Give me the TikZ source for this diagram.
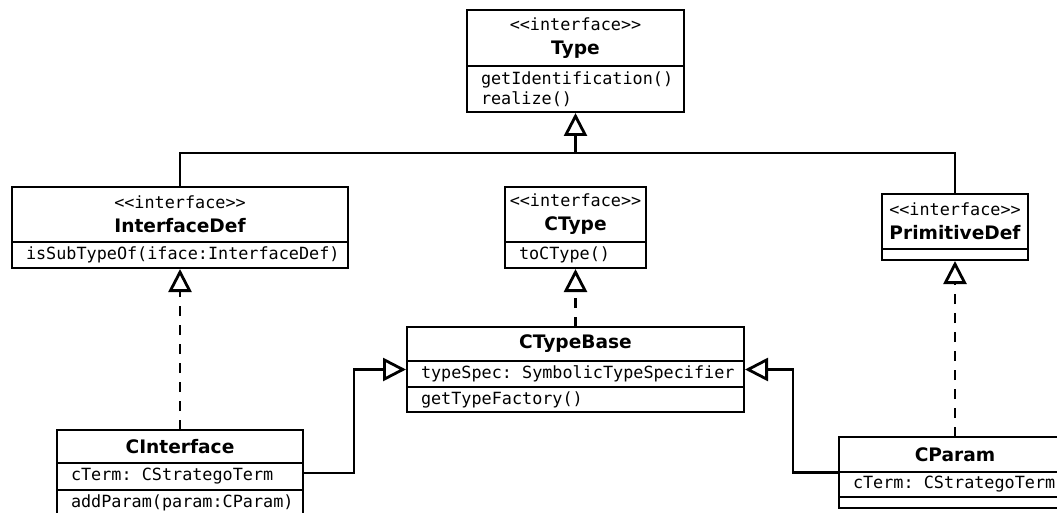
\documentclass[tikz,border=0pt]{standalone}
\usepackage{fontspec}
\setsansfont{DejaVu Sans}
\setmonofont{DejaVu Sans Mono}
\usepackage{tikz}
\usetikzlibrary{arrows.meta,positioning}
\tikzstyle{classbox} = [draw,line width=2.8pt,outer sep=0pt,inner sep=0pt]
\tikzstyle{namebox} = [classbox,align=center,font=\fontsize{16.8pt}{24pt}\selectfont]
\tikzstyle{memberbox} = [classbox,inner xsep=14pt,align=left,font=\ttfamily\fontsize{16.8pt}{20pt}\selectfont]
\tikzstyle{line} = [draw,line width=2.8pt]
\tikzstyle{generalization} = [line,-{Triangle[open,length=23pt,width=23pt]},shorten >=1pt]
\tikzstyle{realization} = [generalization,dash pattern=on 10pt off 9pt]
\newcommand{\ifacetag}{{\ttfamily <<interface>>}}
\newcommand{\cname}[1]{{\sffamily\bfseries\fontsize{18.6pt}{24pt}\selectfont #1}}
\newcommand{\msp}{\hspace{0.602em}}

\begin{document}
\begin{tikzpicture}[x=1pt,y=-1pt]
	\useasboundingbox (0,0) rectangle (1057,513);

	% the interfaces
	\node[classbox,minimum width=217pt,minimum height=102pt] (type) at (575.5,61) {};
	\node[namebox,minimum width=217pt,minimum height=56pt,below=0pt of type.north] (type-name) {\ifacetag\\\cname{Type}};
	\node[memberbox,text width=189pt,minimum height=46pt,below=0pt of type-name] (type-ops) {getIdentification()\\realize()};

	\node[classbox,minimum width=336pt,minimum height=81pt] (idef) at (180,227.5) {};
	\node[namebox,minimum width=336pt,minimum height=55pt,below=0pt of idef.north] (idef-name) {\ifacetag\\\cname{InterfaceDef}};
	\node[memberbox,text width=308pt,minimum height=26pt,below=0pt of idef-name] (idef-ops) {isSubTypeOf(iface:InterfaceDef)};

	\node[classbox,minimum width=141pt,minimum height=81pt] (ctype) at (575.5,227.5) {};
	\node[namebox,minimum width=141pt,minimum height=55pt,below=0pt of ctype.north] (ctype-name) {\ifacetag\\\cname{CType}};
	\node[memberbox,text width=113pt,minimum height=26pt,below=0pt of ctype-name] (ctype-ops) {toCType()};

	\node[classbox,minimum width=146pt,minimum height=66pt] (pdef) at (955,227) {};
	\node[namebox,minimum width=146pt,minimum height=55pt,below=0pt of pdef.north] (pdef-name) {\ifacetag\\\cname{PrimitiveDef}};

	% the classes
	\node[classbox,minimum width=337pt,minimum height=85pt] (cbase) at (575.5,369.5) {};
	\node[namebox,minimum width=337pt,minimum height=34pt,below=0pt of cbase.north] (cbase-name) {\cname{CTypeBase}};
	\node[memberbox,text width=309pt,minimum height=26pt,below=0pt of cbase-name] (cbase-attr) {\mbox{typeSpec:\msp SymbolicTypeSpecifier}};
	\node[memberbox,text width=309pt,minimum height=25pt,below=0pt of cbase-attr] (cbase-ops) {getTypeFactory()};

	\node[classbox,minimum width=246pt,minimum height=86pt] (ciface) at (180,473) {};
	\node[namebox,minimum width=246pt,minimum height=33pt,below=0pt of ciface.north] (ciface-name) {\cname{CInterface}};
	\node[memberbox,text width=218pt,minimum height=27pt,below=0pt of ciface-name] (ciface-attr) {\mbox{cTerm:\msp CStrategoTerm}};
	\node[memberbox,text width=218pt,minimum height=26pt,below=0pt of ciface-attr] (ciface-ops) {addParam(param:CParam)};

	\node[classbox,minimum width=232pt,minimum height=71pt] (cparam) at (955,472.5) {};
	\node[namebox,minimum width=232pt,minimum height=35pt,below=0pt of cparam.north] (cparam-name) {\cname{CParam}};
	\node[memberbox,text width=204pt,minimum height=25pt,below=0pt of cparam-name] (cparam-attr) {\mbox{cTerm:\msp CStrategoTerm}};

	% inheritance
	\coordinate (bus) at (575.5,153);
	\path[line] (idef.north) |- (bus) -| (pdef.north);
	\path[generalization] (bus) -- (type.south);
	\path[generalization] (ciface.east) -- ++(51,0) |- (cbase.west);
	\path[generalization] (cparam.west) -- ++(-46,0) |- (cbase.east);

	% implementation
	\foreach \source/\dest in {ciface/idef, cbase/ctype, cparam/pdef}
		\path[realization] (\source.north) -- (\dest.south);
\end{tikzpicture}
\end{document}
